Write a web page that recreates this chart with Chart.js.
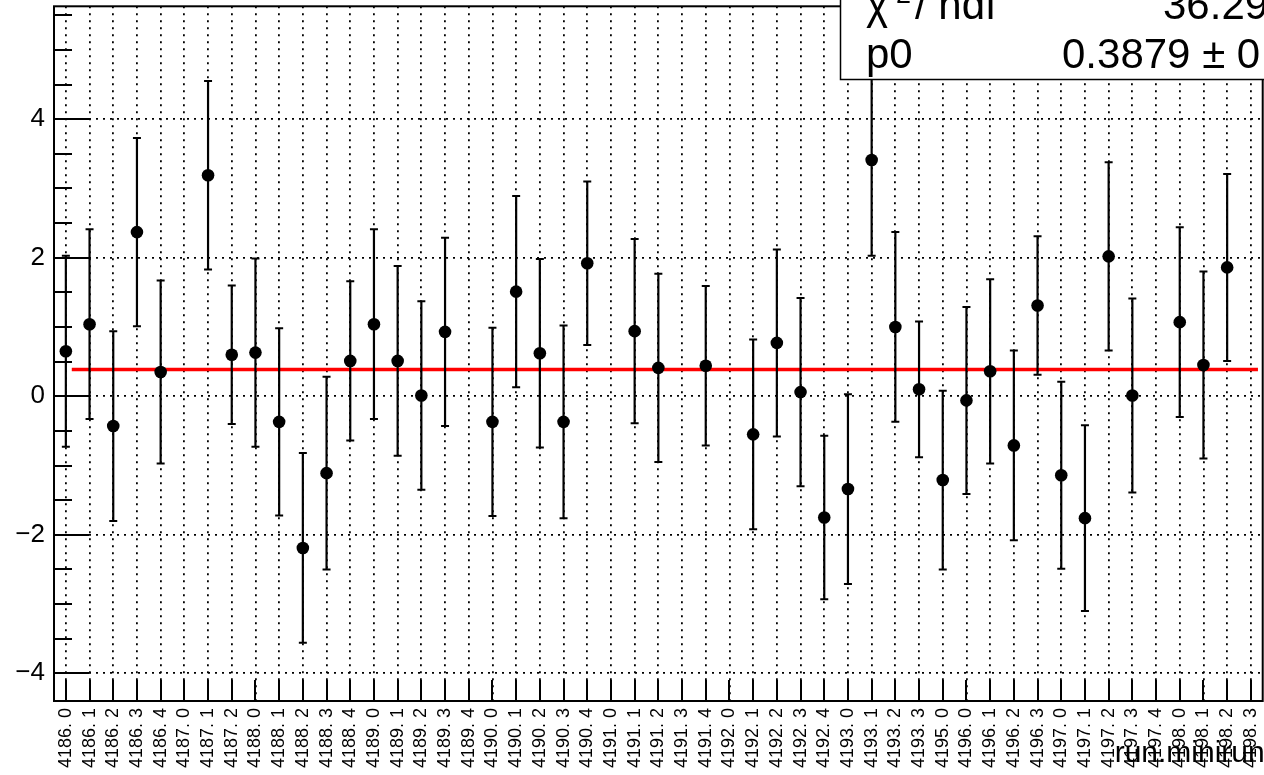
<!DOCTYPE html>
<html>
<head>
<meta charset="utf-8">
<script src="https://cdn.jsdelivr.net/npm/chart.js@4.4.0/dist/chart.umd.min.js"></script>
<style>
  html, body { margin: 0; padding: 0; background: #fff; overflow: hidden; }
  #wrap { width: 1264px; height: 775px; position: relative; overflow: hidden; }
</style>
</head>
<body>
<div id="wrap"><canvas id="chart" width="1269" height="775"></canvas></div>
<script>
// run.minirun categories
const runs = [
  '4186. 0', '4186. 1', '4186. 2', '4186. 3', '4186. 4',
  '4187. 0', '4187. 1', '4187. 2',
  '4188. 0', '4188. 1', '4188. 2', '4188. 3', '4188. 4',
  '4189. 0', '4189. 1', '4189. 2', '4189. 3', '4189. 4',
  '4190. 0', '4190. 1', '4190. 2', '4190. 3', '4190. 4',
  '4191. 0', '4191. 1', '4191. 2', '4191. 3', '4191. 4',
  '4192. 0', '4192. 1', '4192. 2', '4192. 3', '4192. 4',
  '4193. 0', '4193. 1', '4193. 2', '4193. 3',
  '4195. 0',
  '4196. 0', '4196. 1', '4196. 2', '4196. 3',
  '4197. 0', '4197. 1', '4197. 2', '4197. 3', '4197. 4',
  '4198. 0', '4198. 1', '4198. 2', '4198. 3'
];

// vrijednosti po minirunu (null = prazan bin)
const values = [
  0.65, 1.04, -0.43, 2.37, 0.35,
  null, 3.19, 0.60,
  0.63, -0.37, -2.19, -1.11, 0.51,
  1.04, 0.51, 0.01, 0.93, null,
  -0.37, 1.51, 0.62, -0.37, 1.92,
  null, 0.94, 0.41, null, 0.44,
  null, -0.55, 0.77, 0.06, -1.75,
  -1.34, 3.41, 1.00, 0.10,
  -1.21,
  -0.06, 0.36, -0.71, 1.31,
  -1.14, -1.76, 2.02, 0.01, null,
  1.07, 0.45, 1.86, null
];

const errors = [
  1.38, 1.37, 1.37, 1.36, 1.32,
  null, 1.36, 1.00,
  1.36, 1.35, 1.37, 1.39, 1.15,
  1.37, 1.37, 1.36, 1.36, null,
  1.36, 1.38, 1.36, 1.39, 1.18,
  null, 1.33, 1.36, null, 1.15,
  null, 1.37, 1.35, 1.36, 1.18,
  1.37, 1.38, 1.37, 0.98,
  1.29,
  1.35, 1.33, 1.37, 1.00,
  1.35, 1.34, 1.36, 1.40, null,
  1.37, 1.35, 1.35, null
];

const yTicks = [-4, -2, 0, 2, 4];
const yRange = [-4.4, 5.63];
const yMinorStep = 0.5;

// fit pol0
const fitValue = 0.3879;
const fitRange = [0.25, 50.3];
const chi2Text = '36.29 / 43';
const p0Text = '0.3879 \u00b1 0.2071';
const axisTitle = 'run.minirun';

const FONT = '"Liberation Sans", Arial, Helvetica, sans-serif';

// tacke i error barovi
const pointData = [];
const errData = [];
values.forEach((v, i) => {
  if (v === null) return;
  pointData.push({ x: i, y: v });
  errData.push({ x: i, y: v - errors[i] });
  errData.push({ x: i, y: v + errors[i] });
  errData.push({ x: i, y: null });
});

function minus(v) {
  return v < 0 ? '\u2212' + Math.abs(v) : String(v);
}

// bez automatskog paddinga za labele
function noPadding(axis) {
  axis.paddingTop = 0;
  axis.paddingBottom = 0;
  axis.paddingLeft = 0;
  axis.paddingRight = 0;
}

// okvir, unutrasnji tickovi, stat box i naslov ose
const rootStyle = {
  id: 'rootStyle',
  afterDraw(chart) {
    const { ctx, chartArea: a, scales } = chart;
    ctx.save();
    ctx.strokeStyle = '#000';
    ctx.lineWidth = 2;

    // tickovi na x osi
    ctx.beginPath();
    runs.forEach((r, i) => {
      const px = Math.round(scales.x.getPixelForValue(i));
      ctx.moveTo(px, a.bottom);
      ctx.lineTo(px, a.bottom - 21);
    });
    // glavni i sporedni tickovi na y osi
    for (let v = Math.ceil(yRange[0] / yMinorStep) * yMinorStep; v <= yRange[1]; v += yMinorStep) {
      const py = Math.round(scales.y.getPixelForValue(v));
      const major = yTicks.some(t => Math.abs(t - v) < 1e-6);
      ctx.moveTo(a.left, py);
      ctx.lineTo(a.left + (major ? 35 : 18), py);
    }
    ctx.stroke();

    // okvir
    ctx.strokeRect(a.left, a.top, a.right - a.left, a.bottom - a.top);

    // stat box
    ctx.fillStyle = '#fff';
    ctx.fillRect(840, -70, 500, 149);
    ctx.lineWidth = 1.5;
    ctx.strokeRect(840.5, -70, 500, 149.5);

    ctx.fillStyle = '#000';
    ctx.textBaseline = 'alphabetic';
    ctx.textAlign = 'left';
    ctx.font = '42px ' + FONT;
    ctx.fillText('\u03c7', 866, 19);
    ctx.fillText('/ ndf', 915, 19);
    ctx.fillText(chi2Text, 1163, 19);
    ctx.fillText('p0', 866, 68);
    ctx.fillText(p0Text, 1062, 68);
    ctx.font = '27px ' + FONT;
    ctx.fillText('2', 896, 3);

    // naslov x ose
    ctx.font = '30px ' + FONT;
    ctx.textAlign = 'right';
    ctx.fillText(axisTitle, a.right + 2, 762);
    ctx.restore();
  }
};

new Chart(document.getElementById('chart'), {
  type: 'scatter',
  data: {
    datasets: [
      {
        label: 'points',
        data: pointData,
        backgroundColor: '#000',
        borderColor: '#000',
        pointRadius: 6.3,
        pointBorderWidth: 0,
        order: 0
      },
      {
        label: 'errors',
        type: 'line',
        data: errData,
        borderColor: '#000',
        borderWidth: 2.2,
        spanGaps: false,
        pointStyle: 'line',
        pointRadius: 4,
        pointBorderWidth: 2,
        pointBorderColor: '#000',
        order: 1
      },
      {
        label: 'fit',
        type: 'line',
        data: [{ x: fitRange[0], y: fitValue }, { x: fitRange[1], y: fitValue }],
        borderColor: '#ff0000',
        borderWidth: 3.5,
        pointRadius: 0,
        order: 2
      }
    ]
  },
  options: {
    responsive: false,
    animation: false,
    devicePixelRatio: 1,
    layout: { padding: { top: 4, right: 0, left: 0, bottom: 0 } },
    plugins: {
      legend: { display: false },
      tooltip: { enabled: false }
    },
    scales: {
      x: {
        type: 'linear',
        min: -0.5,
        max: runs.length - 0.5,
        afterBuildTicks: axis => { axis.ticks = runs.map((r, i) => ({ value: i })); },
        afterFit: axis => { axis.height = 74; noPadding(axis); },
        border: { display: false, dash: [2, 5] },
        grid: { color: '#000', lineWidth: 1.8, drawTicks: false },
        ticks: {
          autoSkip: false,
          minRotation: 90,
          maxRotation: 90,
          padding: 7,
          color: '#000',
          font: { family: FONT, size: 18 },
          callback: v => runs[v]
        }
      },
      y: {
        type: 'linear',
        min: yRange[0],
        max: yRange[1],
        afterBuildTicks: axis => { axis.ticks = yTicks.map(v => ({ value: v })); },
        afterFit: axis => { axis.width = 54; noPadding(axis); },
        border: { display: false, dash: [2, 5] },
        grid: { color: '#000', lineWidth: 1.8, drawTicks: false },
        ticks: {
          padding: 9,
          color: '#000',
          font: { family: FONT, size: 26 },
          callback: v => minus(v)
        }
      }
    }
  },
  plugins: [rootStyle]
});
</script>
</body>
</html>
